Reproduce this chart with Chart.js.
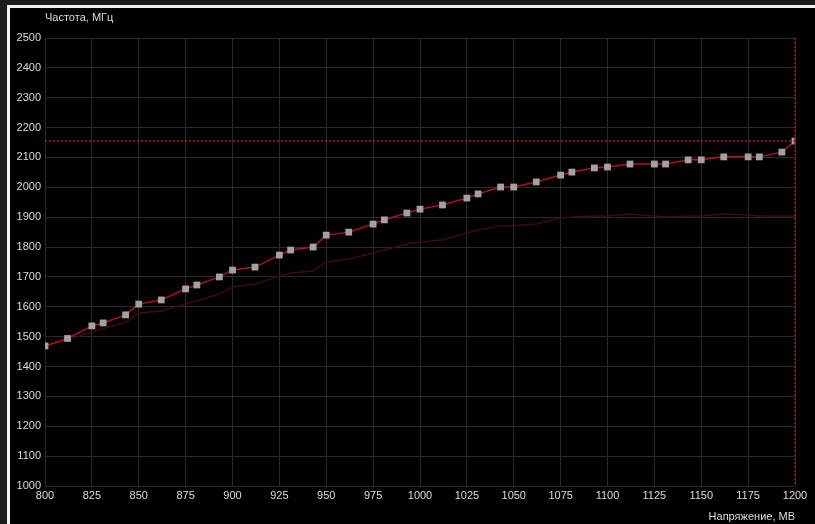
<!DOCTYPE html>
<html>
<head>
<meta charset="utf-8">
<script src="https://cdn.jsdelivr.net/npm/chart.js@4.4.1/dist/chart.umd.min.js"></script>
<style>
    html, body { margin: 0; padding: 0; background: #1c1c1c; overflow: hidden; }
    #panel {
        position: absolute; left: 7px; top: 5px; width: 820px; height: 530px;
        background: #000; border-left: 3px solid #f2f2f2; border-top: 3px solid #f2f2f2;
    }
    #wrap { position: absolute; left: 0; top: 0; width: 815px; height: 524px; }
</style>
</head>
<body>
<div id="panel"></div>
<div id="wrap"><canvas id="curve"></canvas></div>
<script>
// voltage points of the curve, mV
const voltages = [800, 812, 825, 831, 843, 850, 862, 875, 881, 893,
    900, 912, 925, 931, 943, 950, 962, 975, 981, 993,
    1000, 1012, 1025, 1031, 1043, 1050, 1062, 1075, 1081, 1093,
    1100, 1112, 1125, 1131, 1143, 1150, 1162, 1175, 1181, 1193, 1200];
// edited curve (squares), MHz
const curveFreq = [1469, 1494, 1536, 1546, 1573, 1609, 1623, 1660, 1673, 1700,
    1723, 1733, 1773, 1790, 1800, 1840, 1850, 1877, 1891, 1914,
    1927, 1941, 1964, 1978, 2001, 2001, 2018, 2041, 2051, 2065,
    2068, 2078, 2078, 2078, 2092, 2092, 2102, 2102, 2102, 2118, 2155];
// default curve (dim line), MHz
const defaultFreq = [1469, 1489, 1516, 1526, 1549, 1579, 1586, 1610, 1620, 1643,
    1666, 1676, 1703, 1713, 1720, 1750, 1760, 1780, 1790, 1810,
    1817, 1824, 1847, 1857, 1871, 1871, 1877, 1897, 1901, 1904,
    1904, 1911, 1904, 1901, 1904, 1904, 1911, 1907, 1904, 1904, 1904];
const selectedIndex = 40;
const xMin = 800, xMax = 1200, xStep = 25;
const yMin = 1000, yMax = 2500, yStep = 100;

const lineRed = 'rgb(176, 18, 30)';

function toPoints(ys) {
    return voltages.map((v, i) => ({ x: v, y: ys[i] }));
}

// dotted crosshair through the selected point
const crosshair = {
    id: 'crosshair',
    afterDatasetsDraw(chart) {
        const { ctx, chartArea, scales } = chart;
        const px = scales.x.getPixelForValue(voltages[selectedIndex]);
        const py = scales.y.getPixelForValue(curveFreq[selectedIndex]);
        ctx.save();
        ctx.strokeStyle = lineRed;
        ctx.lineWidth = 1.5;
        ctx.setLineDash([2, 2]);
        ctx.beginPath();
        ctx.moveTo(chartArea.left, py);
        ctx.lineTo(chartArea.right, py);
        ctx.moveTo(px, chartArea.top);
        ctx.lineTo(px, chartArea.bottom);
        ctx.stroke();
        ctx.restore();
    }
};

const tickFont = { family: 'Liberation Sans, Arial, sans-serif', size: 11 };
const plain = (value) => String(value);

new Chart(document.getElementById('curve'), {
    type: 'scatter',
    data: {
        datasets: [{
            label: 'default',
            data: toPoints(defaultFreq),
            showLine: true,
            borderColor: 'rgb(62, 10, 16)',
            borderWidth: 1.5,
            pointRadius: 0,
            order: 2
        }, {
            label: 'curve',
            data: toPoints(curveFreq),
            showLine: true,
            borderColor: lineRed,
            borderWidth: 1.5,
            pointStyle: 'rect',
            pointRadius: 4.8,
            pointBorderWidth: 0,
            pointBackgroundColor: '#a2a2a2',
            order: 1
        }]
    },
    options: {
        responsive: true,
        maintainAspectRatio: false,
        animation: false,
        layout: { padding: { top: 4, right: 20, left: 0, bottom: 0 } },
        plugins: {
            legend: { display: false },
            tooltip: { enabled: false },
            title: {
                display: true,
                text: 'Частота, МГц',
                align: 'start',
                fullSize: false,
                color: '#dcdcdc',
                font: { family: 'Liberation Sans, Arial, sans-serif', size: 11, weight: 'normal' },
                padding: { top: 7.4, bottom: 13.4 }
            }
        },
        scales: {
            x: {
                type: 'linear',
                min: xMin,
                max: xMax,
                afterFit(scale) { scale.height = 38; },
                ticks: { stepSize: xStep, color: '#dcdcdc', font: tickFont, padding: 3, maxRotation: 0, callback: plain },
                grid: { color: '#2a2a2a', drawTicks: false },
                border: { display: false },
                title: {
                    display: true,
                    text: 'Напряжение, МВ',
                    align: 'end',
                    color: '#dcdcdc',
                    font: tickFont,
                    padding: { top: 0, bottom: 0 }
                }
            },
            y: {
                min: yMin,
                max: yMax,
                afterFit(scale) { scale.width = 45; },
                ticks: { stepSize: yStep, color: '#dcdcdc', font: tickFont, padding: 4, callback: plain },
                grid: { color: '#2a2a2a', drawTicks: false },
                border: { display: false }
            }
        }
    },
    plugins: [crosshair]
});
</script>
</body>
</html>
